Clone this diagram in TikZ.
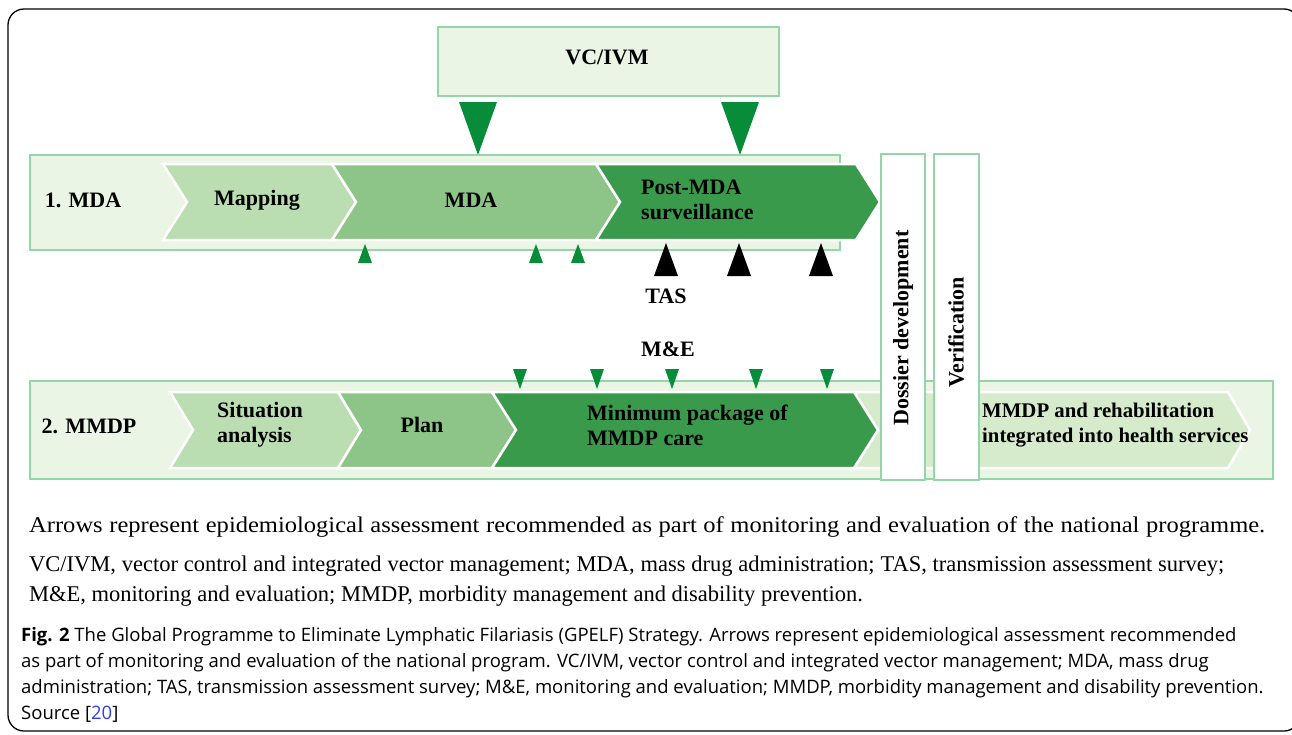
\documentclass[tikz,border=0pt]{standalone}
\usepackage{fontspec}
\setmainfont{Liberation Serif}
\setsansfont{Open Sans}
\newfontfamily\widerserif[FakeStretch=1.09]{Liberation Serif}
\definecolor{bandfill}{HTML}{EBF5E5}
\definecolor{bandline}{HTML}{95D6A8}
\definecolor{stepa}{HTML}{BBDDB2}
\definecolor{stepb}{HTML}{8DC588}
\definecolor{stepc}{HTML}{3A9A4C}
\definecolor{stepcl}{HTML}{4DAD5E}
\definecolor{stepd}{HTML}{D6EBCC}
\definecolor{arrowgreen}{HTML}{078C3A}
\definecolor{linkblue}{HTML}{2F3FE0}
\begin{document}
\begin{tikzpicture}[x=1pt,y=-1pt,
		band/.style={fill=bandfill,draw=bandline,line width=1.5pt},
		chev/.style={draw=white,line width=2.5pt},
		darkchev/.style={chev,left color=stepc,middle color=stepcl,right color=stepc},
		lbl/.style={font=\fontsize{22}{25}\selectfont\bfseries,inner sep=0pt,align=left},
		legend/.style={font=\fontsize{22.5}{30}\selectfont,inner sep=0pt,align=left,anchor=west},
		capt/.style={font=\sffamily\fontsize{18.5}{26}\selectfont,inner sep=0pt,align=left,anchor=north west}]
	\useasboundingbox (0,0) rectangle (1292,734);
	\draw[line width=1.3pt,rounded corners=16pt] (8,9) rectangle (1300,731);
	\draw[band] (438,27) rectangle (779,96);
	\node[lbl] (VcIvm) at (607,57) {VC/IVM};
	\foreach \x in {478,740}
		\fill[arrowgreen] (\x-19,102) -- (\x+19,102) -- (\x,155) -- cycle;
	\draw[band] (30,155) rectangle (840,250);
	\draw[band] (30,381) rectangle (1273,479);
	\path[chev,fill=stepa] (163,164) -- (332,164) -- (356,202) -- (332,240) -- (163,240) -- (187,202) -- cycle;
	\path[chev,fill=stepb] (332,164) -- (596,164) -- (620,202) -- (596,240) -- (332,240) -- (356,202) -- cycle;
	\path[darkchev] (596,164) -- (856,164) -- (880,202) -- (856,240) -- (596,240) -- (620,202) -- cycle;
	\path[chev,fill=stepd] (854,392) -- (1228,392) -- (1250,430) -- (1228,468) -- (854,468) -- (878,430) -- cycle;
	\path[chev,fill=stepa] (170,392) -- (338,392) -- (361,430) -- (338,468) -- (170,468) -- (193,430) -- cycle;
	\path[chev,fill=stepb] (338,392) -- (492,392) -- (516,430) -- (492,468) -- (338,468) -- (361,430) -- cycle;
	\path[darkchev] (492,392) -- (854,392) -- (878,430) -- (854,468) -- (492,468) -- (516,430) -- cycle;
	\foreach \x in {365,536,578}
		\fill[arrowgreen] (\x-7,263) -- (\x+7,263) -- (\x,244) -- cycle;
	\foreach \x in {666,739,821}
		\fill[black] (\x-12,276) -- (\x+12,276) -- (\x,243) -- cycle;
	\foreach \x in {520,597,672,756,827}
		\fill[arrowgreen] (\x-7,369) -- (\x+7,369) -- (\x,389) -- cycle;
	\draw[bandline,fill=white,line width=1.5pt] (881,154) rectangle (925,480);
	\draw[bandline,fill=white,line width=1.5pt] (934,154) rectangle (979,480);
	\node[lbl] (RowA) at (83,200) {1. MDA};
	\node[lbl] (Mapping) at (257,200) {Mapping};
	\node[lbl] (MdaStep) at (471,200) {MDA};
	\node[lbl,anchor=west] (PostMda) at (641,200) {Post-MDA\\surveillance};
	\node[lbl] (Tas) at (666,296) {TAS};
	\node[lbl] (Me) at (668,349) {M\&E};
	\node[lbl] (RowB) at (89,426) {2. MMDP};
	\node[lbl,anchor=west] (Situation) at (217,425) {Situation\\analysis};
	\node[lbl] (Plan) at (422,425) {Plan};
	\node[lbl,anchor=west] (MinPack) at (587,425) {Minimum package of\\MMDP care};
	\node[lbl,anchor=west,font=\fontsize{20.8}{25}\selectfont\bfseries] (Integrated) at (982,425) {MMDP and rehabilitation\\integrated into health services};
	\node[lbl,rotate=90] (Dossier) at (903,328) {Dossier development};
	\node[lbl,rotate=90] (Verif) at (956,332) {Verification};
	\node[legend,font=\widerserif\fontsize{22.5}{30}\selectfont] (NoteA) at (29,527) {\hbox to 1236pt{Arrows represent epidemiological assessment recommended as part of monitoring and evaluation of the national programme.}};
	\node[legend] (NoteB) at (29,581) {\hbox to 1195pt{VC/IVM, vector control and integrated vector management; MDA, mass drug administration; TAS, transmission assessment survey;}\\M\&E, monitoring and evaluation; MMDP, morbidity management and disability prevention.};
	\node[capt] (Caption) at (21,627) {\textbf{Fig. 2} The Global Programme to Eliminate Lymphatic Filariasis (GPELF) Strategy. Arrows represent epidemiological assessment recommended\\as part of monitoring and evaluation of the national program. VC/IVM, vector control and integrated vector management; MDA, mass drug\\administration; TAS, transmission assessment survey; M\&E, monitoring and evaluation; MMDP, morbidity management and disability prevention.\\Source [\textcolor{linkblue}{20}]};
\end{tikzpicture}
\end{document}
